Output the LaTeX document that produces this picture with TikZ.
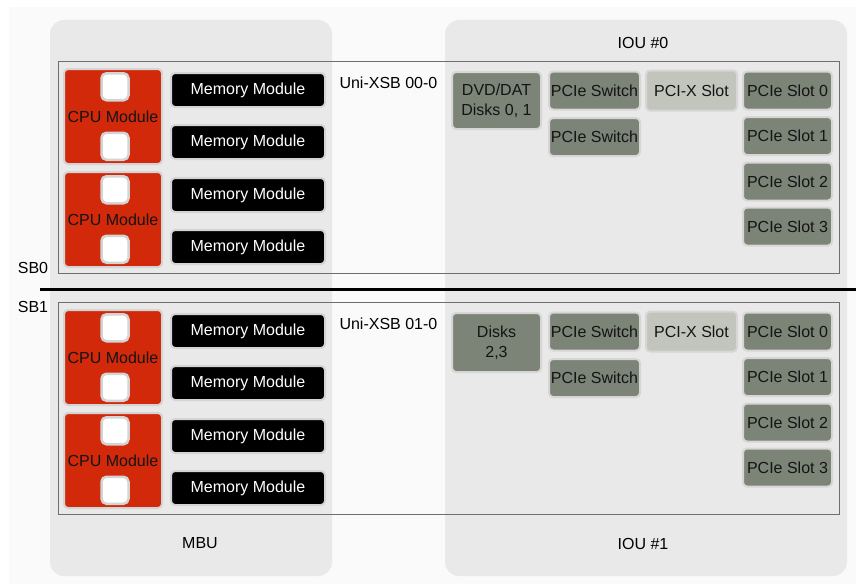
\documentclass[tikz,border=0pt]{standalone}
\usepackage{fontspec}
\setmainfont{Liberation Sans}
\usepackage{xcolor}
\usepackage{tikz}
\usetikzlibrary{positioning,calc}
\definecolor{pagegray}{HTML}{FAFAFA}
\definecolor{panelgray}{HTML}{E9E9E9}
\definecolor{boardline}{HTML}{6E6E6E}
\definecolor{cpured}{HTML}{D2290B}
\definecolor{halo}{HTML}{D4D4D4}
\definecolor{slotgray}{HTML}{7C8377}
\definecolor{pcixgray}{HTML}{C2C5BC}
\definecolor{slothalo}{HTML}{D8D5D5}

\begin{document}
\begin{tikzpicture}[
    x=1pt, y=-1pt,
    every node/.style={font=\fontsize{16}{20}\selectfont},
    panel/.style={fill=panelgray, rounded corners=14pt},
    board/.style={draw=boardline, line width=0.8pt},
    cpu/.style={draw=halo, line width=2pt, fill=cpured, text=black!92, rounded corners=4pt, minimum width=98pt, minimum height=95pt, inner sep=0pt},
    chip/.style={draw=halo, line width=2.5pt, fill=white, rounded corners=5pt, minimum size=27pt, inner sep=0pt},
    mem/.style={draw=halo, line width=2pt, fill=black, text=white, rounded corners=4pt, minimum width=154pt, minimum height=34pt, inner sep=0pt},
    iobox/.style={draw=slothalo, line width=2pt, fill=slotgray, text=black!92, rounded corners=4pt, minimum width=90pt, minimum height=38pt, inner sep=0pt, align=center},
    pcix/.style={iobox, fill=pcixgray}
]
\useasboundingbox (0,0) rectangle (856,586);
\fill[pagegray] (9,7) rectangle (856,584);

% units
\fill[panel] (50,20) rectangle (332,576);
\fill[panel] (445,20) rectangle (847,576);
\node (iou0) at (643,43) {IOU \#0};
\node (mbu) at (200,543) {MBU};
\node (iou1) at (643,544) {IOU \#1};

% system boards
\foreach \b/\o in {0/0,1/241} {
    \draw[board] (58,61+\o) rectangle (839,273+\o);
    \node[cpu] (cpu\b-a) at (113,116.5+\o) {CPU Module};
    \node[cpu] (cpu\b-b) at (113,219.5+\o) {CPU Module};
    \foreach \c in {a,b} {
        \node[chip, below=4pt of cpu\b-\c.north, xshift=2pt] (chip\b-\c1) {};
        \node[chip, above=4pt of cpu\b-\c.south, xshift=2pt] (chip\b-\c2) {};
    }
    \foreach \y [count=\i] in {90,142,195,247}
        \node[mem] (mem\b-\i) at (248,\y+\o) {Memory Module};
    \node[anchor=west] (xsb\b) at (336,83+\o) {Uni-XSB 0\b-0};
    \node[iobox, minimum width=91pt] (sw\b-1) at (594.5,90.5+\o) {PCIe Switch};
    \node[iobox, minimum width=91pt] (sw\b-2) at (594.5,137+\o) {PCIe Switch};
    \node[pcix, minimum width=91pt, minimum height=40pt] (pcix\b) at (691.5,90.5+\o) {PCI-X Slot};
    \foreach \y [count=\i from 0] in {90.5,136,181.5,226.5}
        \node[iobox, minimum width=89pt] (slot\b-\i) at (787.5,\y+\o) {PCIe Slot \i};
}
\node[iobox, minimum width=89pt, minimum height=57pt] (disk0) at (496.5,100.5) {DVD/DAT\\Disks 0, 1};
\node[iobox, minimum width=89pt, minimum height=59pt] (disk1) at (496.5,342.5) {Disks\\2,3};

\node (sb0) at (33,268) {SB0};
\node (sb1) at (33,307) {SB1};
\draw[line width=3pt] (40,289) -- (856,289);
\end{tikzpicture}
\end{document}
